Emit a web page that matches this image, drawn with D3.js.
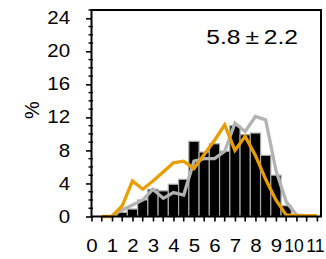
<!DOCTYPE html>
<html>
<head>
<meta charset="utf-8">
<script src="https://cdn.jsdelivr.net/npm/d3@7"></script>
<style>
  body { margin: 0; background: #fff; }
  text { font-family: "Liberation Sans", Arial, sans-serif; fill: #000; }
</style>
</head>
<body>
<div id="chart"></div>
<script>
// histogram bins (centre of each 0.5-wide bin) and their %
var binCenters = [1.5, 2, 2.5, 3, 3.5, 4, 4.5, 5, 5.5, 6, 6.5, 7, 7.5, 8, 8.5, 9, 9.5];
var barValues  = [0.5, 0.9, 2.0, 3.3, 3.1, 3.9, 4.5, 9.1, 7.8, 8.8, 7.9, 11.0, 9.9, 10.1, 7.4, 5.0, 1.3];

// orange curve
var orangeX = [0.5, 1, 1.5, 2, 2.5, 3, 3.5, 4, 4.5, 5, 5.5, 6, 6.5, 7, 7.5, 8, 8.5, 9, 9.5, 10, 10.5, 11];
var orangeY = [0, 0, 1.3, 4.3, 3.3, 4.3, 5.4, 6.5, 6.7, 5.8, 7.5, 9.2, 11.1, 8.0, 9.7, 7.4, 4.5, 2.0, 0.2, 0.1, 0.1, 0.1];

// grey curve
var grayX = [1, 1.5, 2, 2.5, 3, 3.5, 4, 4.5, 5, 5.5, 6, 6.5, 7, 7.5, 8, 8.5, 9, 9.5, 10, 10.5];
var grayY = [0.1, 0.8, 1.4, 2.0, 3.3, 2.2, 2.9, 2.6, 6.7, 7.0, 7.0, 7.9, 11.3, 10.3, 12.1, 11.7, 5.6, 1.8, 0.2, 0.1];

var yTicks = [0, 4, 8, 12, 16, 20, 24];
var yMinor = [1, 2, 3, 5, 6, 7, 9, 10, 11, 13, 14, 15, 17, 18, 19, 21, 22, 23, 25];
var xTicks = [0, 1, 2, 3, 4, 5, 6, 7, 8, 9, 10, 11];
var xMinor = [0.5, 1.5, 2.5, 3.5, 4.5, 5.5, 6.5, 7.5, 8.5, 9.5, 10.5];
var statText = "5.8\u2009\u00b1\u20092.2";

var width = 326, height = 259;
var stretch = 1.17;   // the glyphs in the picture are a bit wide

var svg = d3.select("#chart").append("svg")
    .attr("width", width)
    .attr("height", height);

var x = d3.scaleLinear().domain([0, 11.2]).range([91.5, 321]);
var y = d3.scaleLinear().domain([0, 25]).range([216.5, 10]);

// bars
svg.append("g").selectAll("rect")
    .data(binCenters)
    .enter().append("rect")
    .attr("x", function (d) { return x(d - 0.25); })
    .attr("width", function (d) { return x(d + 0.25) - x(d - 0.25); })
    .attr("y", function (d, i) { return y(barValues[i]); })
    .attr("height", function (d, i) { return y(0) - y(barValues[i]); })
    .attr("fill", "#000")
    .attr("stroke", "#a8a8a8")
    .attr("stroke-width", 1.2);

var line = d3.line()
    .x(function (d) { return x(d[0]); })
    .y(function (d) { return y(d[1]); });

svg.append("path")
    .datum(d3.zip(grayX, grayY))
    .attr("d", line)
    .attr("fill", "none")
    .attr("stroke", "#b3b3b3")
    .attr("stroke-width", 3.3);

svg.append("path")
    .datum(d3.zip(orangeX, orangeY))
    .attr("d", line)
    .attr("fill", "none")
    .attr("stroke", "#e89e00")
    .attr("stroke-width", 3.3);

// left axis
var yAxis = svg.append("g")
    .attr("transform", "translate(" + x(0) + ",0)")
    .call(d3.axisLeft(y).tickValues(yTicks).tickSize(5.5).tickFormat(d3.format("d")));
yAxis.select(".domain").remove();
yAxis.selectAll("line").attr("stroke", "#000").attr("stroke-width", 1.6);
yAxis.selectAll("text")
    .attr("x", -21.5 / stretch)
    .attr("transform", "scale(" + stretch + ",1)")
    .style("font-size", "17.5px");

svg.append("g").selectAll("line")
    .data(yMinor)
    .enter().append("line")
    .attr("x1", x(0) - 3).attr("x2", x(0) + 1.5)
    .attr("y1", function (d) { return y(d); })
    .attr("y2", function (d) { return y(d); })
    .attr("stroke", "#000")
    .attr("stroke-width", 1.4);

// bottom axis
var xAxis = svg.append("g")
    .attr("transform", "translate(0," + y(0) + ")")
    .call(d3.axisBottom(x).tickValues(xTicks).tickSize(5).tickFormat(d3.format("d")));
xAxis.select(".domain").remove();
xAxis.selectAll("line").attr("stroke", "#000").attr("stroke-width", 1.6);
xAxis.selectAll("text")
    .attr("y", 35.5)
    .attr("dy", 0)
    .attr("x", 0)
    .attr("transform", "scale(" + stretch + ",1)")
    .style("font-size", "17.5px");
// 10 and 11 are squeezed together at the right end
xAxis.selectAll("text")
    .filter(function (d) { return d >= 10; })
    .attr("transform", null)
    .attr("x", function (d) { return d === 10 ? -3 : -2; });

svg.append("g").selectAll("line")
    .data(xMinor)
    .enter().append("line")
    .attr("x1", function (d) { return x(d); })
    .attr("x2", function (d) { return x(d); })
    .attr("y1", y(0)).attr("y2", y(0) + 5)
    .attr("stroke", "#000")
    .attr("stroke-width", 1.6);

// frame
svg.append("rect")
    .attr("x", x(0))
    .attr("y", y(25))
    .attr("width", 321 - x(0))
    .attr("height", y(0) - y(25))
    .attr("fill", "none")
    .attr("stroke", "#000")
    .attr("stroke-width", 2);

// y label
svg.append("text")
    .attr("transform", "translate(39,110) rotate(-90)")
    .attr("text-anchor", "middle")
    .style("font-size", "20px")
    .text("%");

// mean +- sd
svg.append("text")
    .attr("transform", "translate(298,43.5) scale(1.2,1)")
    .attr("text-anchor", "end")
    .style("font-size", "20.5px")
    .text(statText);
</script>
</body>
</html>
